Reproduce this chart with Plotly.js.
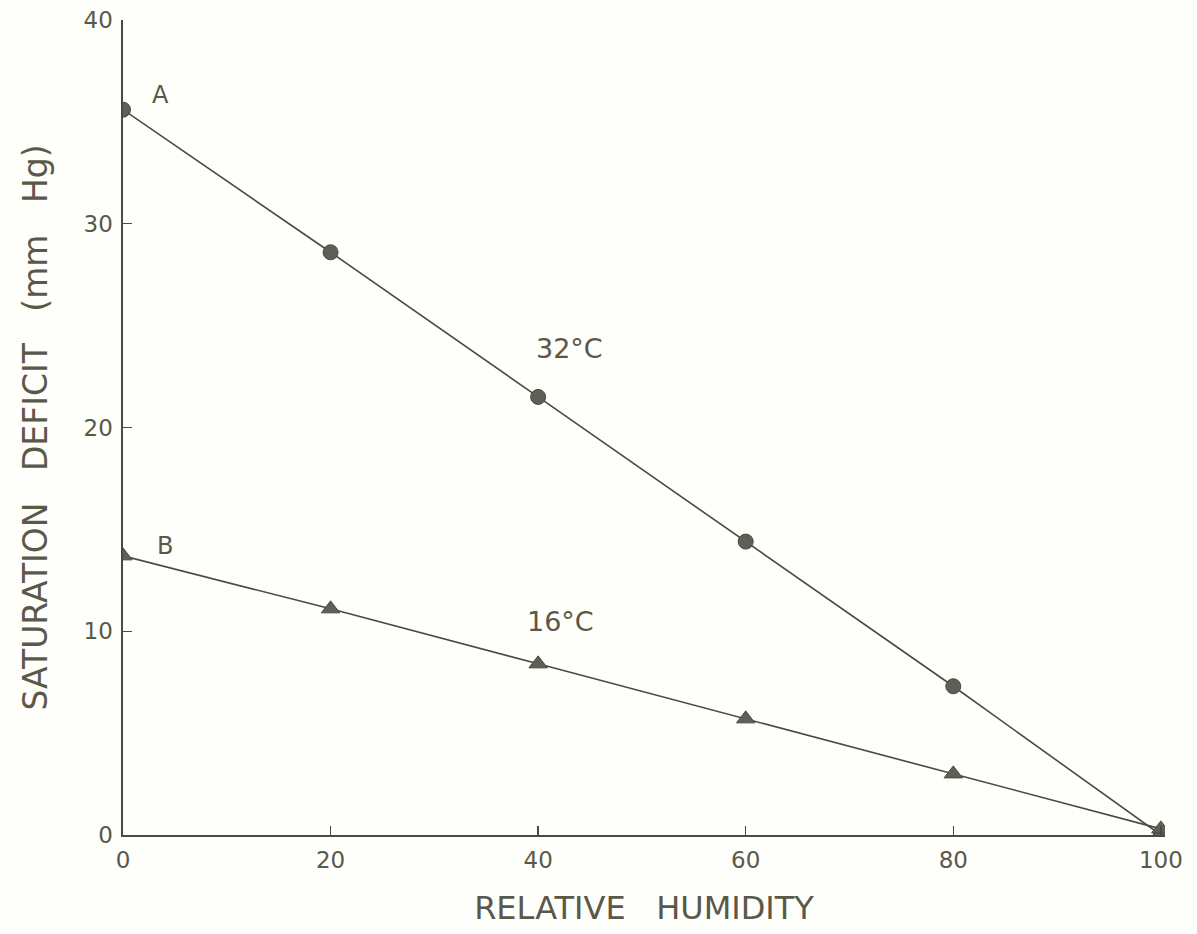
<!DOCTYPE html>
<html><head><meta charset="utf-8">
<script src="https://cdn.plot.ly/plotly-3.0.1.min.js"></script>
<style>html,body{margin:0;padding:0;background:#fefefb;}</style>
</head><body>
<div id="chart" style="width:1197px;height:934px;"></div>
<script>
const humidity = [0, 20, 40, 60, 80, 100];
const deficitA32 = [35.6, 28.6, 21.5, 14.4, 7.3, 0];
const deficitB16 = [13.7, 11.1, 8.4, 5.7, 3.0, 0.3];
const xTicks = [0, 20, 40, 60, 80, 100];
const yTicks = [0, 10, 20, 30, 40];

const ink = '#4b4a3e';
const txt = '#5a5848';

const traces = [
  {x: humidity, y: deficitA32, mode: 'lines+markers', type: 'scatter',
   line: {color: ink, width: 1.6},
   marker: {symbol: 'circle', size: 15, color: '#605f57', line: {color: '#4a4940', width: 1}}},
  {x: humidity, y: deficitB16, mode: 'lines+markers', type: 'scatter',
   line: {color: ink, width: 1.6},
   marker: {symbol: 'triangle-up', size: 16, color: '#605f57', line: {color: '#4a4940', width: 1}}}
];

const layout = {
  width: 1197, height: 934,
  paper_bgcolor: '#fefefb', plot_bgcolor: '#fefefb',
  showlegend: false,
  margin: {l: 123, r: 32, t: 20, b: 99},
  font: {family: 'DejaVu Sans, sans-serif', color: txt},
  xaxis: {range: [0, 100.4], tickvals: xTicks, ticktext: xTicks.map(String),
    showgrid: false, zeroline: false, showline: true, linecolor: ink, linewidth: 1.6,
    ticks: 'inside', ticklen: 9, tickcolor: ink, tickwidth: 1.4,
    tickfont: {size: 23, color: txt}, ticklabelstandoff: 4,
    title: {text: 'RELATIVE   HUMIDITY', font: {size: 32, color: txt}, standoff: 24}},
  yaxis: {range: [0, 40], tickvals: yTicks, ticktext: yTicks.map(String),
    showgrid: false, zeroline: false, showline: true, linecolor: ink, linewidth: 1.6,
    ticks: 'inside', ticklen: 9, tickcolor: ink, tickwidth: 1.4,
    tickfont: {size: 23, color: txt}, ticklabelstandoff: 4,
    title: {text: 'SATURATION   DEFICIT   (mm   Hg)', font: {size: 33, color: txt}, standoff: 26}},
  annotations: [
    {x: 2.6, y: 36.3, text: 'A', showarrow: false, xanchor: 'left', font: {size: 24, color: txt}},
    {x: 3.1, y: 14.2, text: 'B', showarrow: false, xanchor: 'left', font: {size: 24, color: txt}},
    {x: 43.0, y: 23.9, text: '32°C', showarrow: false, font: {size: 27, color: txt}},
    {x: 42.2, y: 10.5, text: '16°C', showarrow: false, font: {size: 27, color: txt}}
  ]
};

Plotly.newPlot('chart', traces, layout, {displayModeBar: false, staticPlot: true});
</script>
</body></html>
